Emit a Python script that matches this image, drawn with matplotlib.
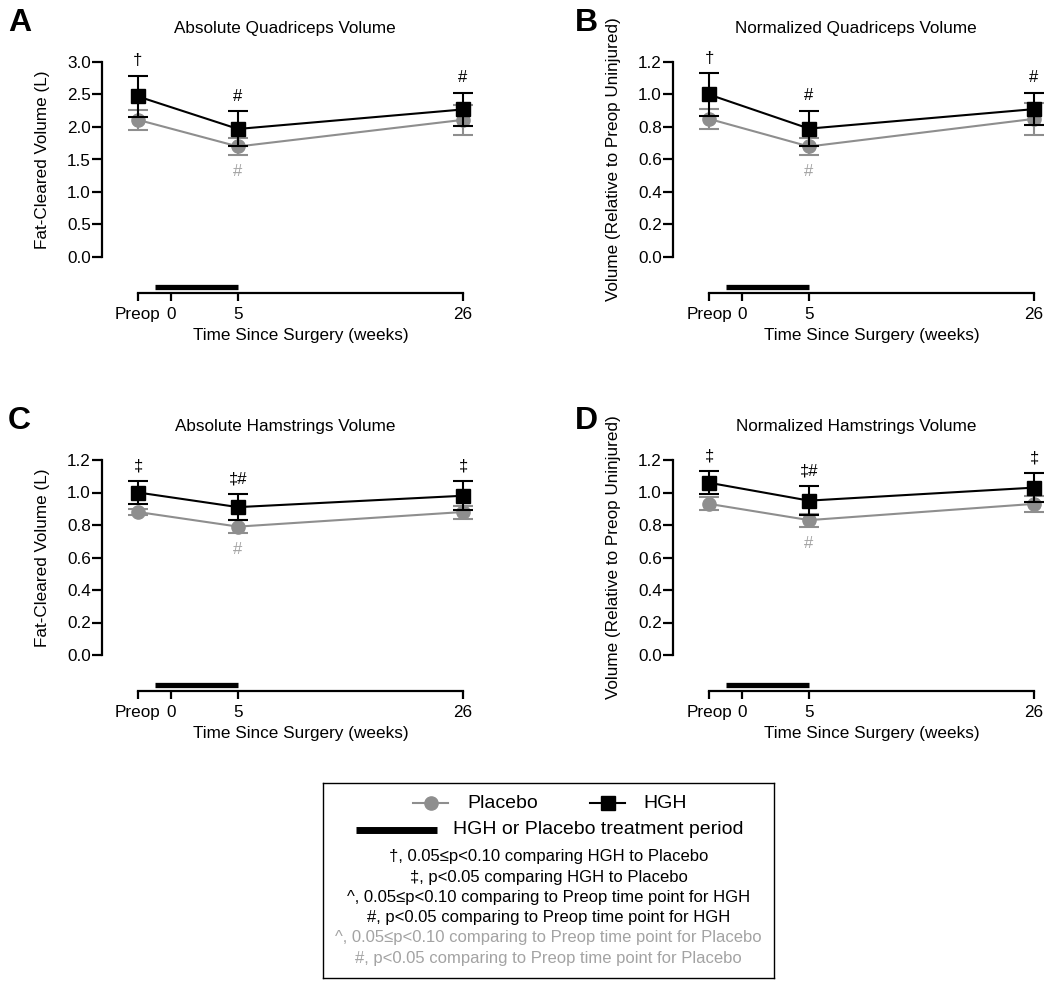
import numpy as np
import matplotlib
matplotlib.use("Agg")
import matplotlib.pyplot as plt
import matplotlib.transforms as mtransforms

plt.rcParams['font.family'] = ['Liberation Sans', 'DejaVu Sans']

# ---- data ----
weeks = [-2, 5, 26]                      # Preop, 5 wk, 26 wk
tick_weeks = [-2, 0, 5, 26]
tick_labels = ['Preop', '0', '5', '26']
treat_start, treat_end = -1, 5

titles = ['Absolute Quadriceps Volume', 'Normalized Quadriceps Volume',
          'Absolute Hamstrings Volume', 'Normalized Hamstrings Volume']
ylabels = ['Fat-Cleared Volume (L)', 'Volume (Relative to Preop Uninjured)',
           'Fat-Cleared Volume (L)', 'Volume (Relative to Preop Uninjured)']
letters = ['A', 'B', 'C', 'D']
ymax = [3.0, 1.2, 1.2, 1.2]
ystep = [0.5, 0.2, 0.2, 0.2]

hgh_mean = [[2.47, 1.97, 2.27], [1.00, 0.79, 0.91], [1.00, 0.91, 0.98], [1.06, 0.95, 1.03]]
hgh_sd = [[0.32, 0.27, 0.25], [0.13, 0.11, 0.10], [0.07, 0.08, 0.09], [0.07, 0.09, 0.09]]
pla_mean = [[2.11, 1.70, 2.11], [0.85, 0.68, 0.85], [0.88, 0.79, 0.88], [0.93, 0.83, 0.93]]
pla_sd = [[0.15, 0.13, 0.23], [0.06, 0.05, 0.10], [0.02, 0.04, 0.04], [0.04, 0.04, 0.05]]

# significance marks (HGH above, placebo below)
hgh_marks = [['†', '#', '#'], ['†', '#', '#'], ['‡', '‡#', '‡'], ['‡', '‡#', '‡']]
pla_marks = [['', '#', ''], ['', '#', ''], ['', '#', ''], ['', '#', '']]

GRAY = '#8e8e8e'
LGRAY = '#a3a3a3'

# piecewise axis (prism-like segmented time axis)
kw = [-20, -2, 0, 5, 26, 60]
kp = [-297, 0, 33, 100, 325, 689.3]


def fwd(w):
    return np.interp(w, kw, kp)


def inv(p):
    return np.interp(p, kp, kw)


W, H = 1050, 986
fig = plt.figure(figsize=(W / 100, H / 100), dpi=100)

col_x = [102, 673]
row_top = [62, 460]
ax_w = 366
ax_h = 231

for i in range(4):
    r, c = divmod(i, 2)
    left = col_x[c] / W
    bottom = (H - (row_top[r] + ax_h)) / H
    ax = fig.add_axes([left, bottom, ax_w / W, ax_h / H])
    ax.set_xscale('function', functions=(fwd, inv))
    ax.set_xlim(inv(-36), inv(330))
    ym = ymax[i]
    ax.set_ylim(-ym * 36 / 195, ym)

    ax.errorbar(weeks, pla_mean[i], yerr=pla_sd[i], fmt='-o', color=GRAY,
                ms=9.5, lw=1.5, elinewidth=1.5, capsize=7, capthick=1.5,
                clip_on=False, zorder=3)
    ax.errorbar(weeks, hgh_mean[i], yerr=hgh_sd[i], fmt='-s', color='black',
                ms=9.5, lw=1.5, elinewidth=1.5, capsize=7, capthick=1.5,
                clip_on=False, zorder=4)

    for w, m, s, t in zip(weeks, hgh_mean[i], hgh_sd[i], hgh_marks[i]):
        if t:
            ax.annotate(t, (w, m + s), xytext=(0, 11), textcoords='offset points',
                        ha='center', va='center', fontsize=12, annotation_clip=False)
    for w, m, s, t in zip(weeks, pla_mean[i], pla_sd[i], pla_marks[i]):
        if t:
            ax.annotate(t, (w, m - s), xytext=(0, -12), textcoords='offset points',
                        ha='center', va='center', fontsize=12, color=LGRAY,
                        annotation_clip=False)

    # treatment bar just above the time axis
    trans = mtransforms.blended_transform_factory(ax.transData, ax.transAxes)
    ax.plot([treat_start, treat_end], [0.024, 0.024], transform=trans, color='black',
            lw=3.8, solid_capstyle='butt', clip_on=False)

    for s in ['top', 'right']:
        ax.spines[s].set_visible(False)
    ax.spines['left'].set_bounds(0, ym)
    ax.spines['bottom'].set_bounds(tick_weeks[0], tick_weeks[-1])
    ax.spines['left'].set_linewidth(1.6)
    ax.spines['bottom'].set_linewidth(1.6)

    ax.set_xticks(tick_weeks)
    ax.set_xticklabels(tick_labels)
    ax.set_yticks(np.arange(0, ym + 1e-9, ystep[i]))
    ax.set_yticklabels(['%.1f' % v for v in np.arange(0, ym + 1e-9, ystep[i])])
    ax.tick_params(axis='both', direction='out', width=1.6, labelsize=12.3)
    ax.tick_params(axis='y', length=7, pad=1)
    ax.tick_params(axis='x', length=6, pad=4)
    ax.xaxis.set_minor_locator(matplotlib.ticker.NullLocator())

    ax.set_title(titles[i], fontsize=12.3, pad=21)

    ax.set_ylabel(ylabels[i], fontsize=12.3)
    ytrans = mtransforms.blended_transform_factory(ax.transAxes, ax.transData)
    ax.yaxis.set_label_coords(-0.142, ym / 2, transform=ytrans)
    ax.set_xlabel('Time Since Surgery (weeks)', fontsize=12.3)
    xmid = inv((fwd(tick_weeks[0]) + fwd(tick_weeks[-1])) / 2)
    ax.xaxis.set_label_coords(xmid, -0.15, transform=trans)

    fig.text((8 + c * 567) / W, 1 - (8 + r * 398) / H, letters[i],
             fontsize=23, fontweight='bold', va='top', ha='left')

# ---- legend box ----
bx, by, bw, bh = 323, 783, 451, 195
lax = fig.add_axes([bx / W, (H - by - bh) / H, bw / W, bh / H])
lax.set_xlim(0, bw)
lax.set_ylim(bh, 0)
lax.set_xticks([])
lax.set_yticks([])
for s in lax.spines.values():
    s.set_linewidth(1.0)

lax.plot([90, 125], [20, 20], color=GRAY, lw=1.5)
lax.plot([107.5], [20], 'o', color=GRAY, ms=9.5)
lax.text(144, 20, 'Placebo', fontsize=14, va='center', ha='left')
lax.plot([267, 302], [20, 20], color='black', lw=1.5)
lax.plot([284.5], [20], 's', color='black', ms=9.5)
lax.text(320, 20, 'HGH', fontsize=14, va='center', ha='left')
lax.plot([33, 114], [47, 47], color='black', lw=5, solid_capstyle='butt')
lax.text(130, 47, 'HGH or Placebo treatment period', fontsize=14, va='center', ha='left')

notes = ['†, 0.05≤p<0.10 comparing HGH to Placebo',
         '‡, p<0.05 comparing HGH to Placebo',
         '^, 0.05≤p<0.10 comparing to Preop time point for HGH',
         '#, p<0.05 comparing to Preop time point for HGH',
         '^, 0.05≤p<0.10 comparing to Preop time point for Placebo',
         '#, p<0.05 comparing to Preop time point for Placebo']
note_colors = ['black', 'black', 'black', 'black', LGRAY, LGRAY]
for k, (t, col) in enumerate(zip(notes, note_colors)):
    lax.text(bw / 2, 74 + k * 20.2, t, fontsize=12, color=col, ha='center', va='center')

fig.savefig('out.png', dpi=100)
